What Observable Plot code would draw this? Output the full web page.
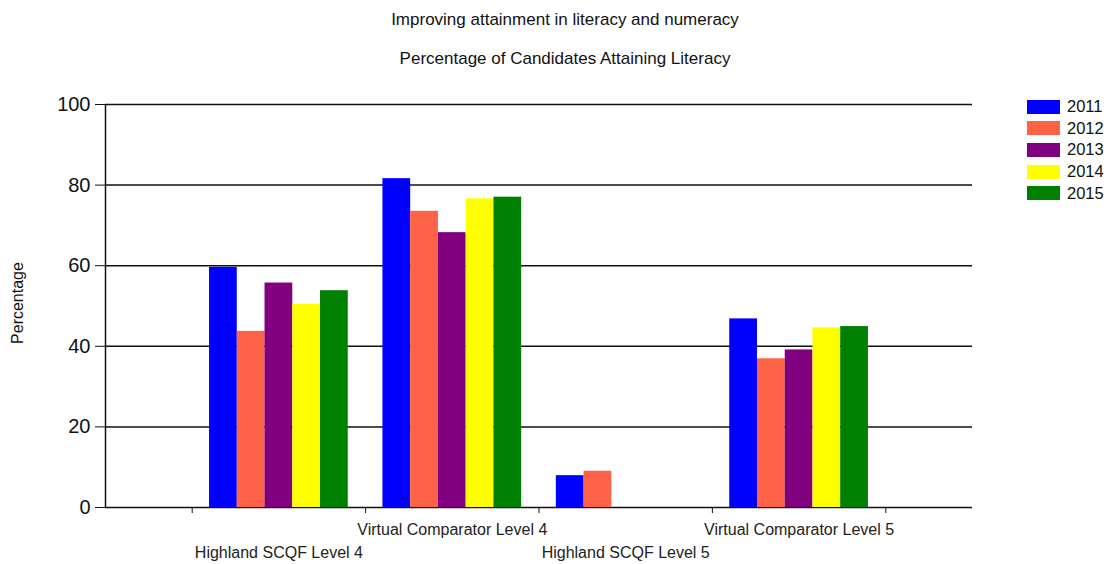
<!DOCTYPE html>
<html>
<head>
<meta charset="utf-8">
<script src="https://cdn.jsdelivr.net/npm/d3@7"></script>
<script src="https://cdn.jsdelivr.net/npm/@observablehq/plot@0.6"></script>
<style>
  html, body { margin: 0; padding: 0; background: #fff; }
  #wrap { position: relative; width: 1115px; height: 564px; font-family: "Liberation Sans", Arial, sans-serif; color: #000; }
  #wrap svg { position: absolute; left: 0; top: 0; }
  .ttl { position: absolute; left: 0; width: 1130px; text-align: center; font-size: 17px; line-height: 20px; white-space: nowrap; color: #111; }
  #ylabel { position: absolute; left: 18px; top: 303px; transform: translate(-50%, -50%) rotate(-90deg); font-size: 16px; white-space: nowrap; color: #111; }
  #legend { position: absolute; left: 1027px; top: 96px; font-size: 16.5px; color: #111; }
  .lrow { display: flex; align-items: center; height: 21.6px; }
  .sw { width: 33px; height: 14px; margin-right: 7px; }
</style>
</head>
<body>
<div id="wrap">
  <div class="ttl" id="title" style="top:10px">Improving attainment in literacy and numeracy</div>
  <div class="ttl" id="subtitle" style="top:49px">Percentage of Candidates Attaining Literacy</div>
  <div id="ylabel">Percentage</div>
  <div id="legend"></div>
</div>
<script>
const categories = ["Highland SCQF Level 4", "Virtual Comparator Level 4", "Highland SCQF Level 5", "Virtual Comparator Level 5"];
const years = ["2011", "2012", "2013", "2014", "2015"];
const values2011 = [59.6, 81.6, 7.9, 46.8];
const values2012 = [43.7, 73.5, 9.0, 36.9];
const values2013 = [55.7, 68.2, null, 39.1];
const values2014 = [50.4, 76.6, null, 44.6];
const values2015 = [53.8, 77.0, null, 44.9];
const colors = ["#0000ff", "#ff6347", "#800080", "#ffff00", "#008000"];
const yTicks = [0, 20, 40, 60, 80, 100];

const series = [values2011, values2012, values2013, values2014, values2015];
const rows = [];
series.forEach((vals, j) => vals.forEach((v, i) => {
  if (v != null) rows.push({i, j, year: years[j], category: categories[i], value: v});
}));

const groupWidth = 0.8;
const barW = groupWidth / years.length;
const boundaries = d3.range(categories.length + 1).map(k => k + 0.5);
const labels = categories.map((c, i) => ({c, pos: i + 1, even: i % 2 === 0}));

const chart = Plot.plot({
  width: 1115,
  height: 564,
  marginLeft: 105,
  marginRight: 143,
  marginTop: 104,
  marginBottom: 57,
  style: {fontFamily: '"Liberation Sans", Arial, sans-serif', color: "#000", background: "transparent", overflow: "visible"},
  x: {domain: [0, categories.length + 1], axis: null, label: null},
  y: {domain: [0, 100], axis: null, label: null},
  color: {domain: years, range: colors},
  marks: [
    Plot.ruleY(yTicks, {x1: 0, x2: categories.length + 1, stroke: "#111", strokeWidth: 1.5}),
    Plot.rectY(rows, {
      x1: d => d.i + 1 - groupWidth / 2 + d.j * barW,
      x2: d => d.i + 1 - groupWidth / 2 + (d.j + 1) * barW,
      y: "value",
      fill: "year"
    }),
    Plot.ruleX([0], {y1: 0, y2: 100, stroke: "#111", strokeWidth: 1.5}),
    Plot.axisY({ticks: yTicks, label: null, tickSize: 10, tickPadding: 5, fontSize: 20, tickFormat: d => String(d), stroke: "#111", fill: "#111"}),
    Plot.axisX({ticks: boundaries, label: null, tickSize: 6, tickFormat: () => "", stroke: "#111"}),
    Plot.text(labels.filter(d => d.even), {x: "pos", y: () => 0, text: "c", dy: 45, fontSize: 16, fill: "#222"}),
    Plot.text(labels.filter(d => !d.even), {x: "pos", y: () => 0, text: "c", dy: 22, fontSize: 16, fill: "#222"})
  ]
});
document.getElementById("wrap").prepend(chart);

const legend = document.getElementById("legend");
years.forEach((y, j) => {
  const row = document.createElement("div");
  row.className = "lrow";
  const sw = document.createElement("div");
  sw.className = "sw";
  sw.style.background = colors[j];
  const t = document.createElement("span");
  t.textContent = y;
  row.appendChild(sw);
  row.appendChild(t);
  legend.appendChild(row);
});
</script>
</body>
</html>
